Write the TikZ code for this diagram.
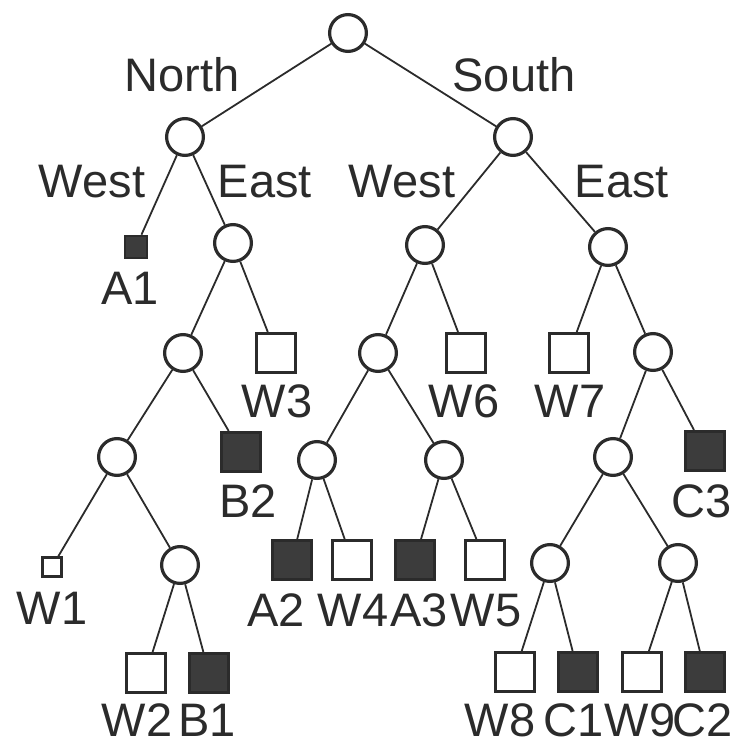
\documentclass[tikz,border=0pt]{standalone}
\usepackage{fontspec}
\setmainfont{Liberation Sans}
\definecolor{ink}{HTML}{2B2B2B}
\begin{document}
\begin{tikzpicture}[x=0.5pt,y=-0.5pt]
\tikzset{
  chance/.style={circle,draw=ink,line width=1.6pt,minimum size=18.4pt,inner sep=0pt},
  box/.style={rectangle,draw=ink,line width=1.3pt,minimum size=19.7pt,inner sep=0pt},
  fullbox/.style={box,fill=ink!92},
  edge/.style={draw=ink,line width=0.9pt},
  lbl/.style={anchor=base,inner sep=0pt,text=ink,font=\fontsize{23.5}{28}\selectfont}
}
\useasboundingbox (0,0) rectangle (746,743);
% decision tree
\node[chance] (r) at (348,33) {};
\node[chance] (n) at (185,137) {};
\node[chance] (s) at (513,137) {};
\node[fullbox,minimum size=11pt] (A1) at (136,247) {};
\node[chance] (ne) at (233,243) {};
\node[chance] (sw) at (425,245) {};
\node[chance] (se) at (608,247) {};
\node[chance] (ne1) at (183,353) {};
\node[box] (W3) at (276,353) {};
\node[chance] (sw1) at (378,353) {};
\node[box] (W6) at (466,353) {};
\node[box] (W7) at (569,353) {};
\node[chance] (se1) at (653,352) {};
\node[chance] (ne2) at (117,457) {};
\node[fullbox] (B2) at (241,452) {};
\node[chance] (sw2) at (317,460) {};
\node[chance] (sw3) at (444,460) {};
\node[chance] (se2) at (613,457) {};
\node[fullbox] (C3) at (705,451) {};
\node[box,minimum size=9.5pt] (W1) at (52,567) {};
\node[chance] (ne3) at (180,565) {};
\node[fullbox] (A2) at (292,560) {};
\node[box] (W4) at (352,560) {};
\node[fullbox] (A3) at (415,560) {};
\node[box] (W5) at (485,560) {};
\node[chance] (se3) at (550,563) {};
\node[chance] (se4) at (678,563) {};
\node[box] (W2) at (146,673) {};
\node[fullbox] (B1) at (209,673) {};
\node[box] (W8) at (515,672) {};
\node[fullbox] (C1) at (578,672) {};
\node[box] (W9) at (642,672) {};
\node[fullbox] (C2) at (705,672) {};
\foreach \a/\b in {r/n,r/s,n/A1,n/ne,s/sw,s/se,ne/ne1,ne/W3,sw/sw1,sw/W6,
  se/W7,se/se1,ne1/ne2,ne1/B2,sw1/sw2,sw1/sw3,se1/se2,se1/C3,ne2/W1,ne2/ne3,
  sw2/A2,sw2/W4,sw3/A3,sw3/W5,se2/se3,se2/se4,ne3/W2,ne3/B1,se3/W8,se3/C1,
  se4/W9,se4/C2}
  \draw[edge] (\a) -- (\b);
% branch names
\node[lbl] (tN) at (182,92) {North};
\node[lbl] (tS) at (514,92) {South};
\node[lbl] (tNW) at (92,198) {West};
\node[lbl] (tNE) at (265,198) {East};
\node[lbl] (tSW) at (402,198) {West};
\node[lbl] (tSE) at (622,198) {East};
% outcomes
\node[lbl] (tA1) at (130,305) {A1};
\node[lbl] (tW3) at (277,418) {W3};
\node[lbl] (tW6) at (464,418) {W6};
\node[lbl] (tW7) at (570,418) {W7};
\node[lbl] (tB2) at (248,518) {B2};
\node[lbl] (tC3) at (702,518) {C3};
\node[lbl] (tW1) at (52,625) {W1};
\node[lbl] (tA2) at (276,627) {A2};
\node[lbl] (tW4) at (353,627) {W4};
\node[lbl] (tA3) at (419,627) {A3};
\node[lbl] (tW5) at (486,627) {W5};
\node[lbl] (tW2) at (137,737) {W2};
\node[lbl] (tB1) at (207,737) {B1};
\node[lbl] (tW8) at (500,737) {W8};
\node[lbl] (tC1) at (574,737) {C1};
\node[lbl] (tW9) at (640,737) {W9};
\node[lbl] (tC2) at (703,737) {C2};
\end{tikzpicture}
\end{document}
